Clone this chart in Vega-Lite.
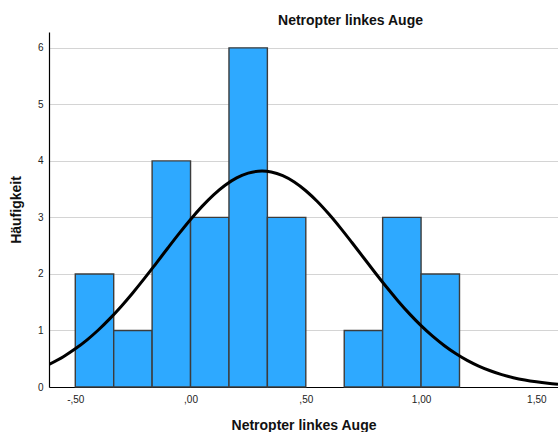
{
  "$schema": "https://vega.github.io/schema/vega-lite/v6.json",
  "width": 509,
  "height": 355,
  "autosize": {"type": "none"},
  "padding": {"left": 49, "top": 32, "right": 0, "bottom": 45},
  "background": "white",
  "title": {
    "text": "Netropter linkes Auge",
    "font": "Liberation Sans",
    "fontSize": 14,
    "fontWeight": "bold",
    "color": "#111111",
    "anchor": "middle",
    "dx": 47,
    "offset": 4
  },
  "config": {
    "view": {"stroke": null},
    "axis": {
      "labelFont": "Liberation Sans",
      "titleFont": "Liberation Sans",
      "labelFontSize": 10,
      "labelColor": "#222222",
      "titleFontSize": 14,
      "titleFontWeight": "bold",
      "titleColor": "#111111",
      "domainColor": "#000000",
      "domainWidth": 1.2,
      "ticks": false
    }
  },
  "datasets": {
    "bins": [
      {"start": -0.5, "end": -0.3333, "count": 2},
      {"start": -0.3333, "end": -0.1667, "count": 1},
      {"start": -0.1667, "end": 0.0, "count": 4},
      {"start": 0.0, "end": 0.1667, "count": 3},
      {"start": 0.1667, "end": 0.3333, "count": 6},
      {"start": 0.3333, "end": 0.5, "count": 3},
      {"start": 0.6667, "end": 0.8333, "count": 1},
      {"start": 0.8333, "end": 1.0, "count": 3},
      {"start": 1.0, "end": 1.1667, "count": 2}
    ],
    "curve": [
      {"x": -0.614, "y": 0.40},
      {"x": -0.55, "y": 0.541},
      {"x": -0.5, "y": 0.675},
      {"x": -0.45, "y": 0.830},
      {"x": -0.4, "y": 1.008},
      {"x": -0.35, "y": 1.209},
      {"x": -0.3, "y": 1.429},
      {"x": -0.25, "y": 1.668},
      {"x": -0.2, "y": 1.921},
      {"x": -0.15, "y": 2.184},
      {"x": -0.1, "y": 2.450},
      {"x": -0.05, "y": 2.713},
      {"x": 0.0, "y": 2.964},
      {"x": 0.05, "y": 3.195},
      {"x": 0.1, "y": 3.400},
      {"x": 0.15, "y": 3.570},
      {"x": 0.2, "y": 3.700},
      {"x": 0.25, "y": 3.784},
      {"x": 0.31, "y": 3.820},
      {"x": 0.35, "y": 3.804},
      {"x": 0.4, "y": 3.739},
      {"x": 0.45, "y": 3.627},
      {"x": 0.5, "y": 3.472},
      {"x": 0.55, "y": 3.281},
      {"x": 0.6, "y": 3.059},
      {"x": 0.65, "y": 2.815},
      {"x": 0.7, "y": 2.556},
      {"x": 0.75, "y": 2.291},
      {"x": 0.8, "y": 2.026},
      {"x": 0.85, "y": 1.768},
      {"x": 0.9, "y": 1.523},
      {"x": 0.95, "y": 1.294},
      {"x": 1.0, "y": 1.086},
      {"x": 1.05, "y": 0.899},
      {"x": 1.1, "y": 0.735},
      {"x": 1.15, "y": 0.592},
      {"x": 1.2, "y": 0.471},
      {"x": 1.25, "y": 0.370},
      {"x": 1.3, "y": 0.287},
      {"x": 1.35, "y": 0.219},
      {"x": 1.4, "y": 0.165},
      {"x": 1.45, "y": 0.123},
      {"x": 1.5, "y": 0.091},
      {"x": 1.55, "y": 0.066},
      {"x": 1.594, "y": 0.049}
    ]
  },
  "layer": [
    {
      "data": {"name": "bins"},
      "mark": {"type": "bar", "color": "#2EA9FF", "stroke": "#3C3C3C", "strokeWidth": 1.4},
      "encoding": {
        "x": {
          "field": "start",
          "type": "quantitative",
          "scale": {"domain": [-0.614, 1.594], "nice": false, "zero": false},
          "axis": {
            "title": "Netropter linkes Auge",
            "values": [-0.5, 0, 0.5, 1, 1.5],
            "labelExpr": "datum.value == -0.5 ? '-,50' : datum.value == 0 ? ',00' : datum.value == 0.5 ? ',50' : datum.value == 1 ? '1,00' : '1,50'",
            "grid": false,
            "labelPadding": 7,
            "titlePadding": 14
          }
        },
        "x2": {"field": "end"},
        "y": {
          "field": "count",
          "type": "quantitative",
          "scale": {"domain": [0, 6.28], "nice": false},
          "axis": {
            "title": "Häufigkeit",
            "values": [0, 1, 2, 3, 4, 5, 6],
            "format": "d",
            "grid": true,
            "gridColor": "#D4D4D4",
            "gridWidth": 1.2,
            "labelPadding": 6,
            "titlePadding": 14
          }
        },
        "y2": {"datum": 0}
      }
    },
    {
      "data": {"name": "curve"},
      "mark": {"type": "line", "color": "#000000", "strokeWidth": 3, "interpolate": "monotone", "clip": true},
      "encoding": {
        "x": {"field": "x", "type": "quantitative"},
        "y": {"field": "y", "type": "quantitative"}
      }
    }
  ]
}
